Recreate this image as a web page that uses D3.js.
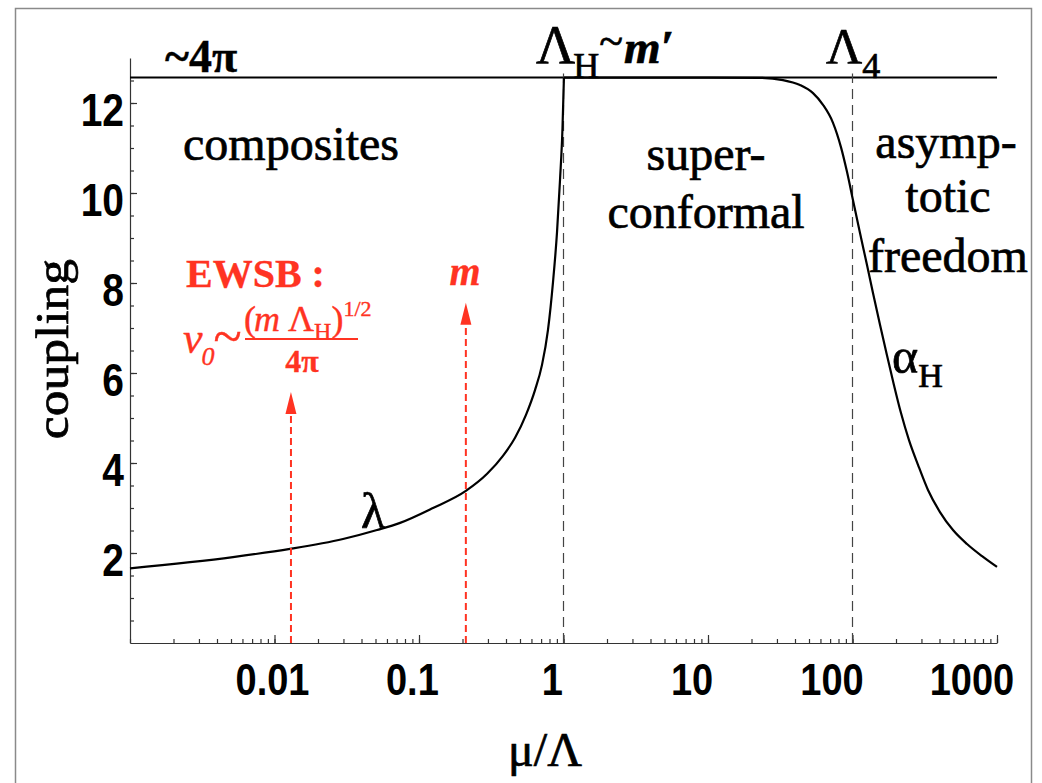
<!DOCTYPE html>
<html><head><meta charset="utf-8">
<script src="https://cdn.jsdelivr.net/npm/d3@7"></script>
<style>
body{margin:0;background:#fff}svg{display:block}
.serif{font-family:"Liberation Serif","Times New Roman",serif}
.sans{font-family:"Liberation Sans",Arial,sans-serif;font-weight:bold}
</style>
</head><body>
<svg id="c" width="1042" height="783"></svg>
<script>
// ---- data ----
const lambdaMu  = [0.001,0.00516,0.0128,0.0298,0.0512,0.074,0.125,0.211,0.296,0.381,0.462,0.550,0.635,0.710,0.781,0.846,0.902,0.946,0.984,1.007];
const lambdaVal = [1.66,1.91,2.09,2.31,2.51,2.67,3.0,3.38,3.76,4.16,4.56,5.07,5.62,6.18,6.96,8.02,9.13,10.29,11.44,12.566];
const alphaMu  = [1.007,3,10,22.9,33,43.3,53.3,62.5,73.3,83.2,91.6,100.8,112.7,126,138.6,155,173,193.7,216.6,246,284,333,403,496,620,788,1000];
const alphaVal = [12.566,12.566,12.566,12.56,12.51,12.40,12.22,11.96,11.56,11.02,10.47,9.84,9.11,8.40,7.78,7.07,6.40,5.73,5.11,4.51,3.96,3.40,2.91,2.51,2.20,1.93,1.69];
const fourPi = 4*Math.PI;
const scaleMarks = [1, 100];            // Lambda_H, Lambda_4 (dashed)
const arrowMu  = [0.013, 0.211];        // EWSB, m
const arrowTop = [5.58, 7.56];
const xTickLabels = ["0.01","0.1","1","10","100","1000"];
const xTickValues = [0.01,0.1,1,10,100,1000];
const yTickValues = [2,4,6,8,10,12];

const RED = "#ff3322";

const svg = d3.select("#c");
const x = d3.scaleLog().domain([0.001,1000]).range([130,997]);
const y = d3.scaleLinear().domain([0,13]).range([643,58]);

// outer frame
svg.append("rect").attr("x",15.5).attr("y",8.5).attr("width",1016).attr("height",820)
  .attr("fill","none").attr("stroke","#8a8a8a").attr("stroke-width",1.5);

// axes
const gx = svg.append("g").attr("transform",`translate(0,${y(0)})`);
gx.call(d3.axisBottom(x).tickValues(x.ticks()).tickSize(-4).tickSizeOuter(0).tickFormat(""));
gx.append("g").call(d3.axisBottom(x).tickValues(xTickValues).tickSize(-8).tickSizeOuter(0).tickFormat(""))
  .select(".domain").remove();
const gy = svg.append("g").attr("transform",`translate(${x(0.001)},0)`);
gy.call(d3.axisLeft(y).tickValues(d3.range(0.5,13,0.5)).tickSize(-4).tickSizeOuter(0).tickFormat(""));
gy.append("g").call(d3.axisLeft(y).tickValues(yTickValues).tickSize(-7).tickSizeOuter(0).tickFormat(""))
  .select(".domain").remove();
svg.selectAll(".domain, .tick line").attr("stroke","#333").attr("stroke-width",1.2);

// tick labels
svg.append("g").selectAll("text").data(xTickValues).join("text").attr("class","sans")
  .attr("transform",(d)=>`translate(${x(d) - 0.032*(x(d)-x(0.01)) - 2},695) scale(0.95,1.12)`)
  .attr("text-anchor","middle").attr("font-size",40).text((d,i)=>xTickLabels[i]);
svg.append("g").selectAll("text").data(yTickValues).join("text").attr("class","sans")
  .attr("transform",d=>`translate(124,${y(d)+23}) scale(0.95,1.12)`)
  .attr("text-anchor","end").attr("font-size",41).text(d=>d);

// helper for serif text
function t(txt,px,py,size,opts={}){
  const fill = opts.fill||"#000";
  const e = svg.append("text").attr("class","serif").attr("x",px).attr("y",py)
    .attr("font-size",size).attr("text-anchor",opts.anchor||"start")
    .attr("fill",fill).attr("stroke",fill).attr("stroke-width",opts.sw==null?0.7:opts.sw);
  if(opts.bold) e.attr("font-weight","bold");
  if(opts.italic) e.attr("font-style","italic");
  if(txt!==null) e.text(txt);
  return e;
}
function sp(e,txt,o={}){
  const s = e.append("tspan").text(txt);
  for(const k in o) s.attr(k,o[k]);
  return s;
}

// axis titles
t("coupling",0,0,46).attr("x",null).attr("y",null)
  .attr("transform","translate(68,349) rotate(-90) scale(1.12,1)").attr("text-anchor","middle");
t("μ/Λ",545,766,48,{anchor:"middle"});

// 4π line
svg.append("line").attr("x1",x(0.001)).attr("x2",x(1000)).attr("y1",y(fourPi)).attr("y2",y(fourPi))
  .attr("stroke","#000").attr("stroke-width",2);

// dashed scale markers
svg.append("g").selectAll("line").data(scaleMarks).join("line")
  .attr("x1",d=>x(d)).attr("x2",d=>x(d)).attr("y1",y(0)).attr("y2",y(fourPi)-4)
  .attr("stroke","#444").attr("stroke-width",1.2).attr("stroke-dasharray","10,6");

// curves
const line = d3.line().x(d=>x(d[0])).y(d=>y(d[1])).curve(d3.curveMonotoneX);
svg.append("path").attr("d",line(lambdaMu.map((m,i)=>[m,lambdaVal[i]])))
  .attr("fill","none").attr("stroke","#000").attr("stroke-width",2.2);
svg.append("path").attr("d",line(alphaMu.map((m,i)=>[m,alphaVal[i]])))
  .attr("fill","none").attr("stroke","#000").attr("stroke-width",2.2);

// red arrows
const head = 22, hw = 5.5;
arrowMu.forEach((m,i)=>{
  const ax = x(m), tip = y(arrowTop[i]);
  svg.append("line").attr("x1",ax).attr("x2",ax).attr("y1",y(0)).attr("y2",tip+head-2)
    .attr("stroke",RED).attr("stroke-width",2).attr("stroke-dasharray","7,4");
  svg.append("path").attr("d",`M${ax},${tip}L${ax-hw},${tip+head}L${ax+hw},${tip+head}Z`).attr("fill",RED);
});

// region labels
t("composites",183,160,48);
t("super-",706,170,48,{anchor:"middle"});
t("conformal",706,228,48,{anchor:"middle"});
t("asymp-",946,158,48,{anchor:"middle"});
t("totic",948,212,48,{anchor:"middle"});
t("freedom",948,272,48,{anchor:"middle"});
t("λ",361,528,50);
{ const e = t("α",892,373,50); sp(e,"H",{"font-size":34,dy:14}); }

// top labels
t("~4π",165,72,46,{bold:true,sw:0.4});
{ const e = t("Λ",536,63,54);
  sp(e,"H",{"font-size":36,dy:15,dx:-2});
  sp(e,"~",{"font-size":44,dy:-22});
  sp(e,"m′",{"font-size":47,dy:7,dx:1,"font-weight":"bold","font-style":"italic"}); }
{ const e = t("Λ",826,63,50); sp(e,"4",{"font-size":36,dy:15}); }

// red EWSB annotation
t("EWSB :",186,287,40,{bold:true,fill:RED,sw:0.3});
{ const e = t("v",183,353,44,{italic:true,fill:RED,sw:0.4});
  sp(e,"0",{"font-size":26,dy:12,dx:-1});
  sp(e,"~",{"font-size":52,dy:-11,"font-style":"normal",dx:-1}); }
{ const e = t("(",244,331,36,{fill:RED,sw:0.4});
  sp(e,"m",{"font-style":"italic",dx:-2});
  sp(e,"Λ",{dx:8});
  sp(e,"H",{"font-size":24,dy:8});
  sp(e,")",{dy:-8});
  sp(e,"1/2",{"font-size":22,dy:-15}); }
svg.append("line").attr("x1",245).attr("x2",358).attr("y1",339).attr("y2",339)
  .attr("stroke",RED).attr("stroke-width",2);
t("4π",302,372,32,{bold:true,fill:RED,anchor:"middle",sw:0.3});
t("m",465,285,40,{bold:true,italic:true,fill:RED,anchor:"middle",sw:0.3});
</script>
</body></html>
